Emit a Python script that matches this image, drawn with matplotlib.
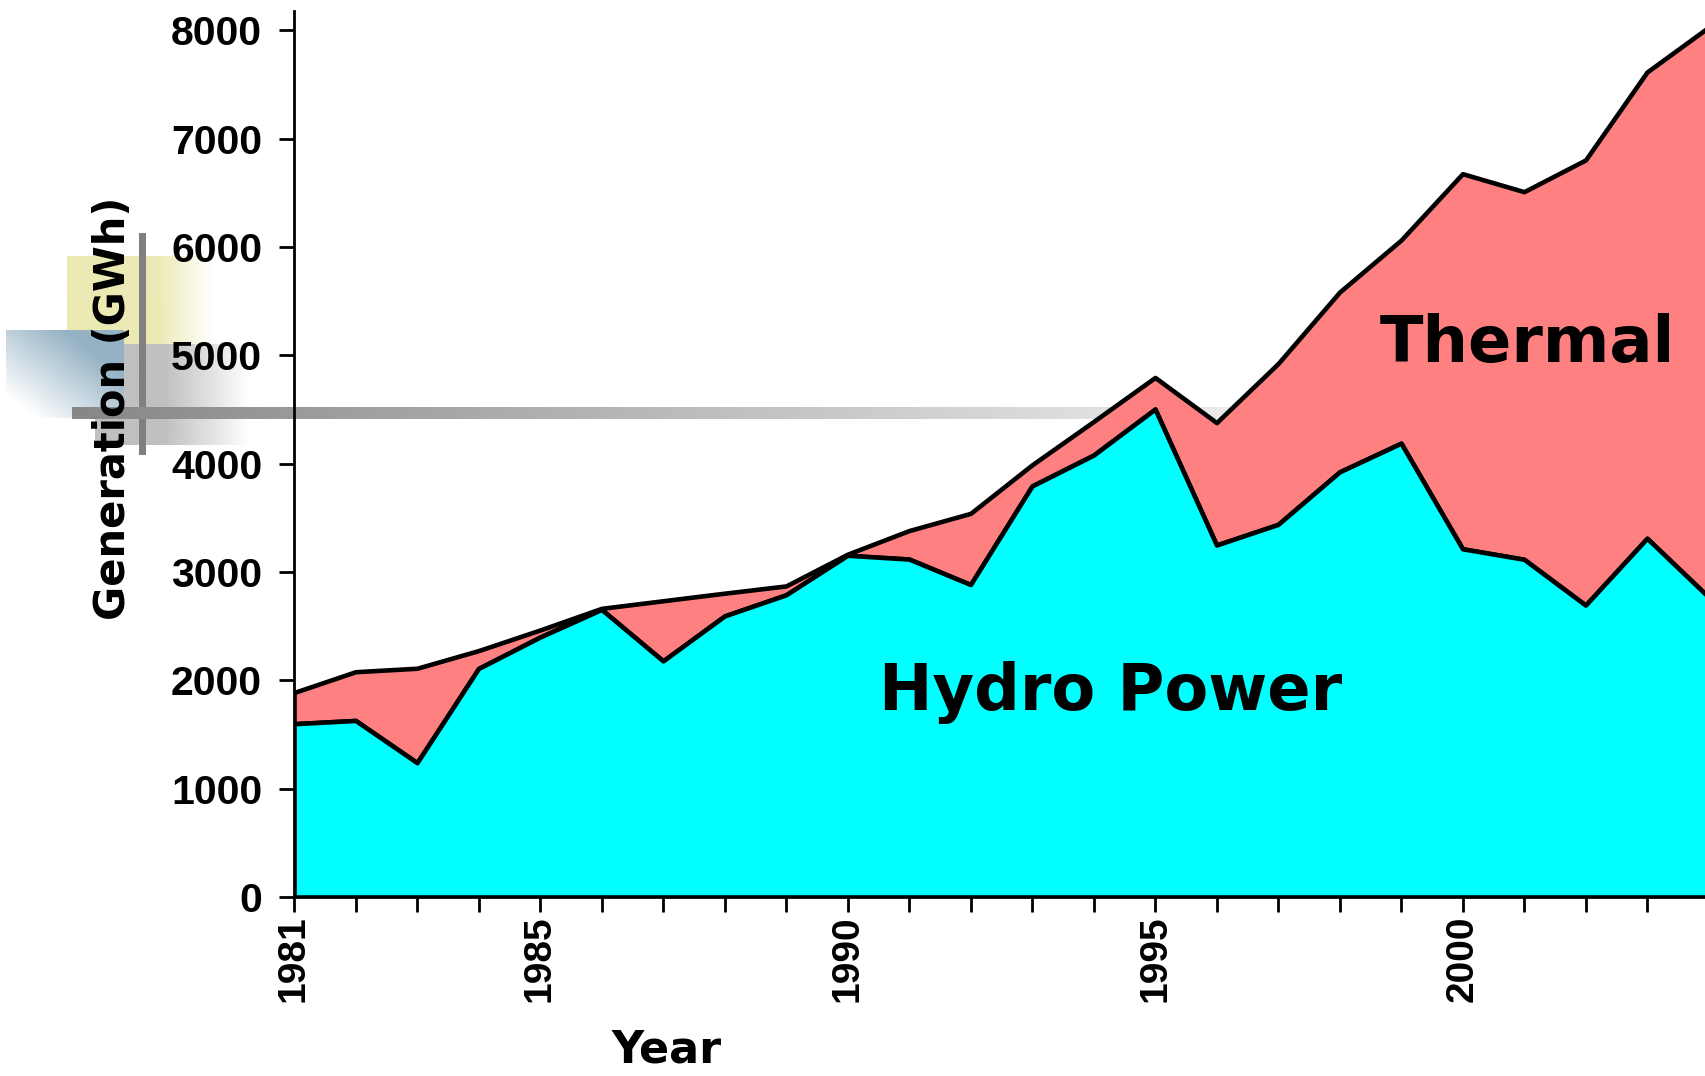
import numpy as np
import matplotlib
matplotlib.use("Agg")
import matplotlib.pyplot as plt

# ---- data ----
years = [1981, 1982, 1983, 1984, 1985, 1986, 1987, 1988, 1989, 1990, 1991, 1992,
         1993, 1994, 1995, 1996, 1997, 1998, 1999, 2000, 2001, 2002, 2003, 2004]
hydro = [1600, 1630, 1240, 2110, 2400, 2655, 2180, 2595, 2790, 3155, 3120, 2885,
         3795, 4080, 4505, 3250, 3440, 3925, 4190, 3215, 3118, 2695, 3312, 2770]
total = [1888, 2080, 2112, 2275, 2465, 2665, 2735, 2805, 2872, 3165, 3383, 3542,
         3990, 4390, 4797, 4380, 4925, 5585, 6065, 6678, 6512, 6805, 7617, 8030]
tick_years = list(range(1981, 2004))
labelled_years = [1981, 1985, 1990, 1995, 2000]
y_ticks = [0, 1000, 2000, 3000, 4000, 5000, 6000, 7000, 8000]

W, H = 1706, 1076
fig = plt.figure(figsize=(W / 100, H / 100), dpi=100)

# ---- decorative background (pixel coordinates) ----
bg = fig.add_axes([0, 0, 1, 1], zorder=0)
bg.set_xlim(0, W)
bg.set_ylim(H, 0)
bg.axis("off")


def hgrad(x0, x1, y0, y1, rgb, solid_frac):
    n = 200
    t = np.linspace(0, 1, n)
    a = np.where(t < solid_frac, 1.0, 1 - (t - solid_frac) / (1 - solid_frac))
    img = np.ones((1, n, 4))
    img[0, :, :3] = np.array(rgb) / 255.0
    img[0, :, 3] = a
    bg.imshow(img, extent=[x0, x1, y1, y0], aspect="auto", interpolation="bilinear", zorder=1)


# yellow block
hgrad(67, 213, 256, 344, (236, 234, 180), 0.62)
# gray block
hgrad(95, 250, 344, 445, (192, 192, 192), 0.45)
# blue block (diagonal gradient)
nx, ny = 120, 90
xx, yy = np.meshgrid(np.linspace(0, 1, nx), np.linspace(0, 1, ny))
tt = np.clip(0.8 * xx + 0.8 * (1 - yy) - 0.2, 0, 1)
blue = np.ones((ny, nx, 4))
base = np.array([148, 178, 196]) / 255.0
for k in range(3):
    blue[:, :, k] = 1 - tt * (1 - base[k])
bg.imshow(blue, extent=[6, 124, 418, 330], aspect="auto", interpolation="bilinear", zorder=2)
# vertical gray line
bg.fill_between([139, 146], 233, 455, color="#808080", lw=0, zorder=3)
# horizontal gradient bar
n = 300
bar = np.ones((1, n, 3))
g = np.linspace(135, 235, n) / 255.0
for k in range(3):
    bar[0, :, k] = g
bg.imshow(bar, extent=[72, 1230, 419, 407], aspect="auto", interpolation="bilinear", zorder=3)

# ---- main chart ----
left = 294 / W
bottom = 1 - 897 / H
ax = fig.add_axes([left, bottom, 1708.5 / W - left, (897 - 11) / H], zorder=1)
ax.patch.set_alpha(0)

ax.fill_between(years, 0, hydro, facecolor="#00FFFF", edgecolor="black", linewidth=3.3, zorder=3)
ax.fill_between(years, hydro, total, facecolor="#FF8080", edgecolor="black", linewidth=3.3, zorder=2)

ax.set_xlim(1981, 2004)
ax.set_ylim(0, 8180)

for s in ["top", "right"]:
    ax.spines[s].set_visible(False)
ax.spines["left"].set_linewidth(2)
ax.spines["bottom"].set_linewidth(2)
ax.spines["left"].set_zorder(5)

ax.set_yticks(y_ticks)
ax.set_yticklabels([str(v) for v in y_ticks], fontfamily="Liberation Sans",
                   fontweight="bold", fontsize=29.5)
ax.tick_params(axis="y", length=11, width=2, pad=12)

ax.set_xticks(tick_years)
ax.set_xticklabels([str(y) if y in labelled_years else "" for y in tick_years],
                   rotation=90, fontfamily="Liberation Sans", fontweight="bold", fontsize=28)
ax.tick_params(axis="x", length=11, width=2, pad=2)

comic = dict(fontfamily="DejaVu Sans", fontweight="bold")
ax.set_ylabel("Generation (GWh)", fontsize=30, **comic)
ax.yaxis.set_label_coords((113 - 294) / 1414.5, (897 - 408) / 886)
ax.yaxis.label.set_va("center")
ax.set_xlabel("Year", fontsize=32, **comic)
ax.xaxis.set_label_coords((667 - 294) / 1414.5, (897 - 1050) / 886)
ax.xaxis.label.set_va("center")

ax.text(1994.28, 1884, "Hydro Power", fontsize=46, ha="center", va="center", zorder=6, **comic)
ax.text(2001.05, 5106, "Thermal", fontsize=46, ha="center", va="center", zorder=6, **comic)

fig.savefig("out.png", dpi=100)
